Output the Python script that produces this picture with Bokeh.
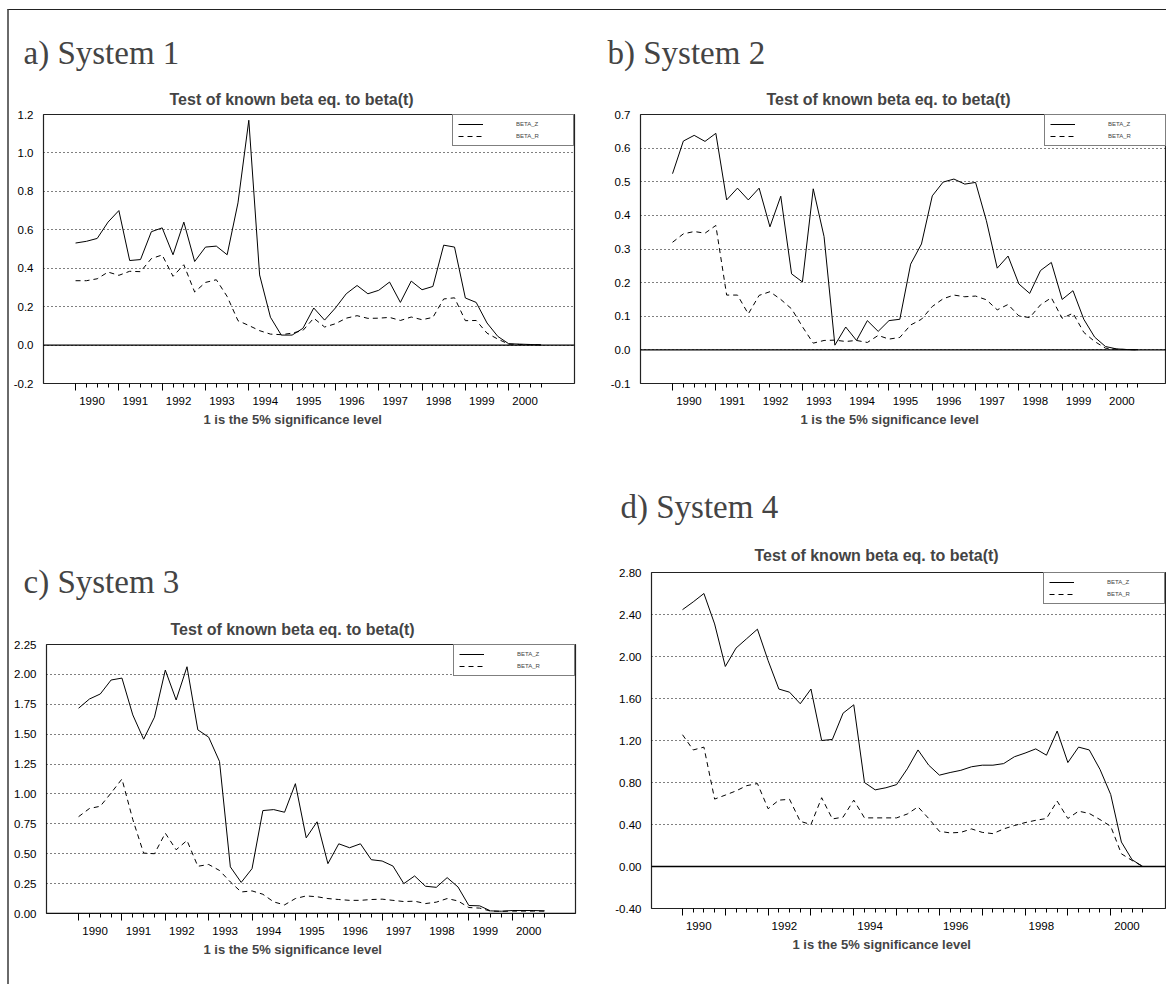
from bokeh.plotting import figure
from bokeh.models import (LinearAxis, FixedTicker, Grid, Span, Legend, LegendItem, Title,
                          NumeralTickFormatter, Range1d)
from bokeh.layouts import row, column
from bokeh.embed import file_html
from bokeh.resources import INLINE

# Quarterly observation dates, 1990Q1 .. 2000Q4
quarters = [year + q / 4 for year in range(1990, 2001) for q in range(4)]

# System 1
sys1_beta_z = [0.531, 0.54, 0.555, 0.64, 0.70, 0.44, 0.445, 0.59, 0.61, 0.47, 0.64, 0.435,
               0.51, 0.515, 0.47, 0.74, 1.17, 0.365, 0.145, 0.052, 0.052, 0.087, 0.193, 0.13,
               0.193, 0.267, 0.31, 0.267, 0.285, 0.328, 0.222, 0.333, 0.288, 0.305, 0.52, 0.51,
               0.245, 0.222, 0.115, 0.045, 0.007, 0.005, 0.003, 0.001]
sys1_beta_r = [0.335, 0.335, 0.345, 0.38, 0.363, 0.384, 0.382, 0.45, 0.469, 0.358, 0.418, 0.276,
               0.326, 0.34, 0.253, 0.127, 0.102, 0.075, 0.057, 0.054, 0.062, 0.076, 0.14, 0.094,
               0.111, 0.14, 0.153, 0.139, 0.14, 0.144, 0.128, 0.146, 0.132, 0.144, 0.24, 0.246,
               0.127, 0.128, 0.062, 0.031, 0.005, 0.003, 0.002, 0.001]

# System 2
sys2_beta_z = [0.524, 0.621, 0.638, 0.62, 0.644, 0.446, 0.481, 0.446, 0.481, 0.366, 0.457, 0.226,
               0.202, 0.479, 0.337, 0.014, 0.068, 0.028, 0.087, 0.055, 0.087, 0.091, 0.255, 0.315,
               0.458, 0.499, 0.508, 0.493, 0.498, 0.384, 0.243, 0.279, 0.196, 0.168, 0.236, 0.26,
               0.15, 0.176, 0.091, 0.038, 0.01, 0.003, 0.001, 0.0005]
sys2_beta_r = [0.32, 0.345, 0.352, 0.347, 0.37, 0.163, 0.163, 0.107, 0.162, 0.173, 0.15, 0.122,
               0.069, 0.02, 0.028, 0.029, 0.025, 0.028, 0.022, 0.043, 0.032, 0.037, 0.074, 0.091,
               0.129, 0.152, 0.163, 0.158, 0.16, 0.149, 0.119, 0.135, 0.101, 0.096, 0.134, 0.155,
               0.094, 0.109, 0.052, 0.025, 0.005, 0.002, 0.001, 0.0]

# System 3
sys3_beta_z = [1.717, 1.794, 1.836, 1.953, 1.969, 1.661, 1.458, 1.642, 2.036, 1.786, 2.064, 1.536,
               1.475, 1.272, 0.39, 0.26, 0.375, 0.861, 0.869, 0.847, 1.086, 0.633, 0.767, 0.417,
               0.583, 0.55, 0.583, 0.45, 0.439, 0.397, 0.25, 0.314, 0.228, 0.219, 0.30, 0.222,
               0.067, 0.064, 0.022, 0.019, 0.025, 0.025, 0.025, 0.022]
sys3_beta_r = [0.81, 0.878, 0.897, 1.008, 1.125, 0.786, 0.505, 0.50, 0.672, 0.533, 0.611, 0.395,
               0.41, 0.36, 0.264, 0.18, 0.189, 0.161, 0.097, 0.072, 0.125, 0.147, 0.14, 0.125,
               0.117, 0.11, 0.11, 0.117, 0.12, 0.11, 0.1, 0.103, 0.083, 0.095, 0.125, 0.105,
               0.05, 0.045, 0.02, 0.018, 0.02, 0.02, 0.02, 0.02]

# System 4
sys4_beta_z = [2.446, 2.52, 2.60, 2.31, 1.905, 2.08, 2.17, 2.26, 1.96, 1.69, 1.66, 1.55,
               1.69, 1.20, 1.21, 1.46, 1.54, 0.80, 0.73, 0.75, 0.78, 0.93, 1.11, 0.965,
               0.87, 0.895, 0.916, 0.95, 0.965, 0.965, 0.98, 1.045, 1.08, 1.12, 1.06, 1.29,
               0.99, 1.137, 1.11, 0.925, 0.686, 0.233, 0.064, 0.0]
sys4_beta_r = [1.255, 1.11, 1.137, 0.642, 0.68, 0.72, 0.77, 0.79, 0.55, 0.632, 0.64, 0.43,
               0.40, 0.655, 0.453, 0.47, 0.632, 0.463, 0.463, 0.463, 0.463, 0.50, 0.568, 0.457,
               0.335, 0.32, 0.325, 0.358, 0.325, 0.313, 0.358, 0.39, 0.418, 0.44, 0.457, 0.623,
               0.457, 0.527, 0.505, 0.447, 0.383, 0.121, 0.057, 0.0]

# Axis ticks
year_ticks = list(range(1990, 2001))
quarter_ticks = [t for t in quarters if t not in year_ticks]
labels_every_year = list(range(1990, 2001))
labels_even_years = list(range(1990, 2001, 2))

sys1_yticks = [-0.2, 0.0, 0.2, 0.4, 0.6, 0.8, 1.0, 1.2]
sys2_yticks = [-0.1, 0.0, 0.1, 0.2, 0.3, 0.4, 0.5, 0.6, 0.7]
sys3_yticks = [0.0, 0.25, 0.5, 0.75, 1.0, 1.25, 1.5, 1.75, 2.0, 2.25]
sys4_yticks = [-0.4, 0.0, 0.4, 0.8, 1.2, 1.6, 2.0, 2.4, 2.8]

TITLE = "Test of known beta eq. to beta(t)"
XLABEL = "1 is the 5% significance level"
SANS = "Liberation Sans"
SERIF = "Liberation Serif"


def panel(tag, beta_z, beta_r, yticks, fmt, label_years, size, borders, xr, text_pos,
          shift_down=0):
    width, height = size
    bl, br, bt, bb = borders
    cap_off, cap_so, title_off, title_so, xlab_off = text_pos
    p = figure(width=width, height=height, title=tag,
               x_range=Range1d(*xr), y_range=Range1d(yticks[0], yticks[-1]),
               x_axis_location=None, y_axis_location=None,
               toolbar_location=None, output_backend="svg",
               min_border_left=bl, min_border_right=br,
               min_border_top=bt, min_border_bottom=bb)
    if shift_down:
        p.styles = {"margin-top": f"{shift_down}px"}
    p.xgrid.visible = False
    p.ygrid.visible = False
    p.background_fill_color = "white"
    p.border_fill_color = "white"
    p.outline_line_color = "#222222"
    p.outline_line_width = 1.2

    # panel caption (outermost)
    p.title.text_font = SERIF
    p.title.text_font_size = "33px"
    p.title.text_font_style = "normal"
    p.title.align = "left"
    p.title.offset = cap_off
    p.title.standoff = cap_so
    # chart title, next to the frame
    p.add_layout(Title(text=TITLE, text_font=SANS, text_font_size="16px",
                       text_font_style="bold", align="left", offset=title_off,
                       standoff=title_so), "above")

    # value axis, labels only
    yax = LinearAxis(ticker=FixedTicker(ticks=yticks),
                     formatter=NumeralTickFormatter(format=fmt),
                     axis_line_color=None, major_tick_line_color=None,
                     minor_tick_line_color=None, major_tick_out=0, major_tick_in=0,
                     minor_tick_out=0, minor_tick_in=0, major_label_standoff=10,
                     major_label_text_font=SANS, major_label_text_font_size="11.5px",
                     major_label_text_color="black")
    p.add_layout(yax, "left")

    # time axis: year and quarter tick marks
    xticks = LinearAxis(ticker=FixedTicker(ticks=year_ticks, minor_ticks=quarter_ticks),
                        axis_line_color=None,
                        major_tick_line_color="black", minor_tick_line_color="black",
                        major_tick_out=7, major_tick_in=0, minor_tick_out=4, minor_tick_in=0,
                        major_label_text_color=None, major_label_standoff=0)
    p.add_layout(xticks, "below")
    # time axis: year labels sitting inside each year span
    xlabels = LinearAxis(ticker=FixedTicker(ticks=[y + 0.38 for y in label_years], minor_ticks=[]),
                         formatter=NumeralTickFormatter(format="0"),
                         axis_line_color=None, major_tick_line_color=None,
                         minor_tick_line_color=None, major_tick_out=0, major_tick_in=0,
                         minor_tick_out=0, minor_tick_in=0, major_label_standoff=6,
                         major_label_text_font=SANS, major_label_text_font_size="11.5px",
                         major_label_text_color="black")
    p.add_layout(xlabels, "below")
    p.add_layout(Title(text=XLABEL, text_font=SANS, text_font_size="13px",
                       text_font_style="bold", align="left", offset=xlab_off,
                       standoff=4), "below")

    grid = Grid(dimension=1, ticker=FixedTicker(ticks=yticks[1:-1]),
                grid_line_color="black", grid_line_dash="1 3", grid_line_width=1)
    p.add_layout(grid)
    p.add_layout(Span(location=0, dimension="width", line_color="black", line_width=1.3))

    rz = p.line(quarters, beta_z, line_color="black", line_width=1)
    rr = p.line(quarters, beta_r, line_color="black", line_width=1, line_dash="5 4")

    legend = Legend(items=[LegendItem(label="BETA_Z", renderers=[rz]),
                           LegendItem(label="BETA_R", renderers=[rr])],
                    location="top_right", margin=0, padding=5, spacing=4,
                    glyph_width=25, glyph_height=8, label_height=8, label_width=52,
                    label_standoff=33, label_text_font=SANS, label_text_font_size="6px",
                    border_line_color="black", border_line_width=1,
                    background_fill_color="white", background_fill_alpha=1.0)
    p.add_layout(legend)
    return p


pa = panel("a) System 1", sys1_beta_z, sys1_beta_r, sys1_yticks, "0.0", labels_every_year,
           (571, 450), (34, 6, 104, 77), (1989.26, 2001.52), (-20, 22, 126, 14, 160))
pb = panel("b) System 2", sys2_beta_z, sys2_beta_r, sys2_yticks, "0.0", labels_every_year,
           (586, 450), (60, 0, 104, 77), (1989.26, 2001.41), (-33, 22, 126, 14, 160))
# panel c sits lower on the page than panel d
pc = panel("c) System 3", sys3_beta_z, sys3_beta_r, sys3_yticks, "0.00", labels_every_year,
           (571, 447), (37, 5, 112, 66), (1989.26, 2001.46), (-23, 24, 124, 14, 157),
           shift_down=72)
pd = panel("d) System 4", sys4_beta_z, sys4_beta_r, sys4_yticks, "0.00", labels_even_years,
           (586, 514), (71, 1, 112, 66), (1989.276, 2001.28), (-31, 22, 103, 18, 141))

page = column(row(pa, pb), row(pc, pd),
              styles={"border-left": "2px solid #6a6a6a", "border-top": "1px solid #222222",
                      "margin-left": "7px", "margin-top": "9px", "padding-bottom": "5px"})

open("out.html", "w").write(file_html(page, INLINE))
